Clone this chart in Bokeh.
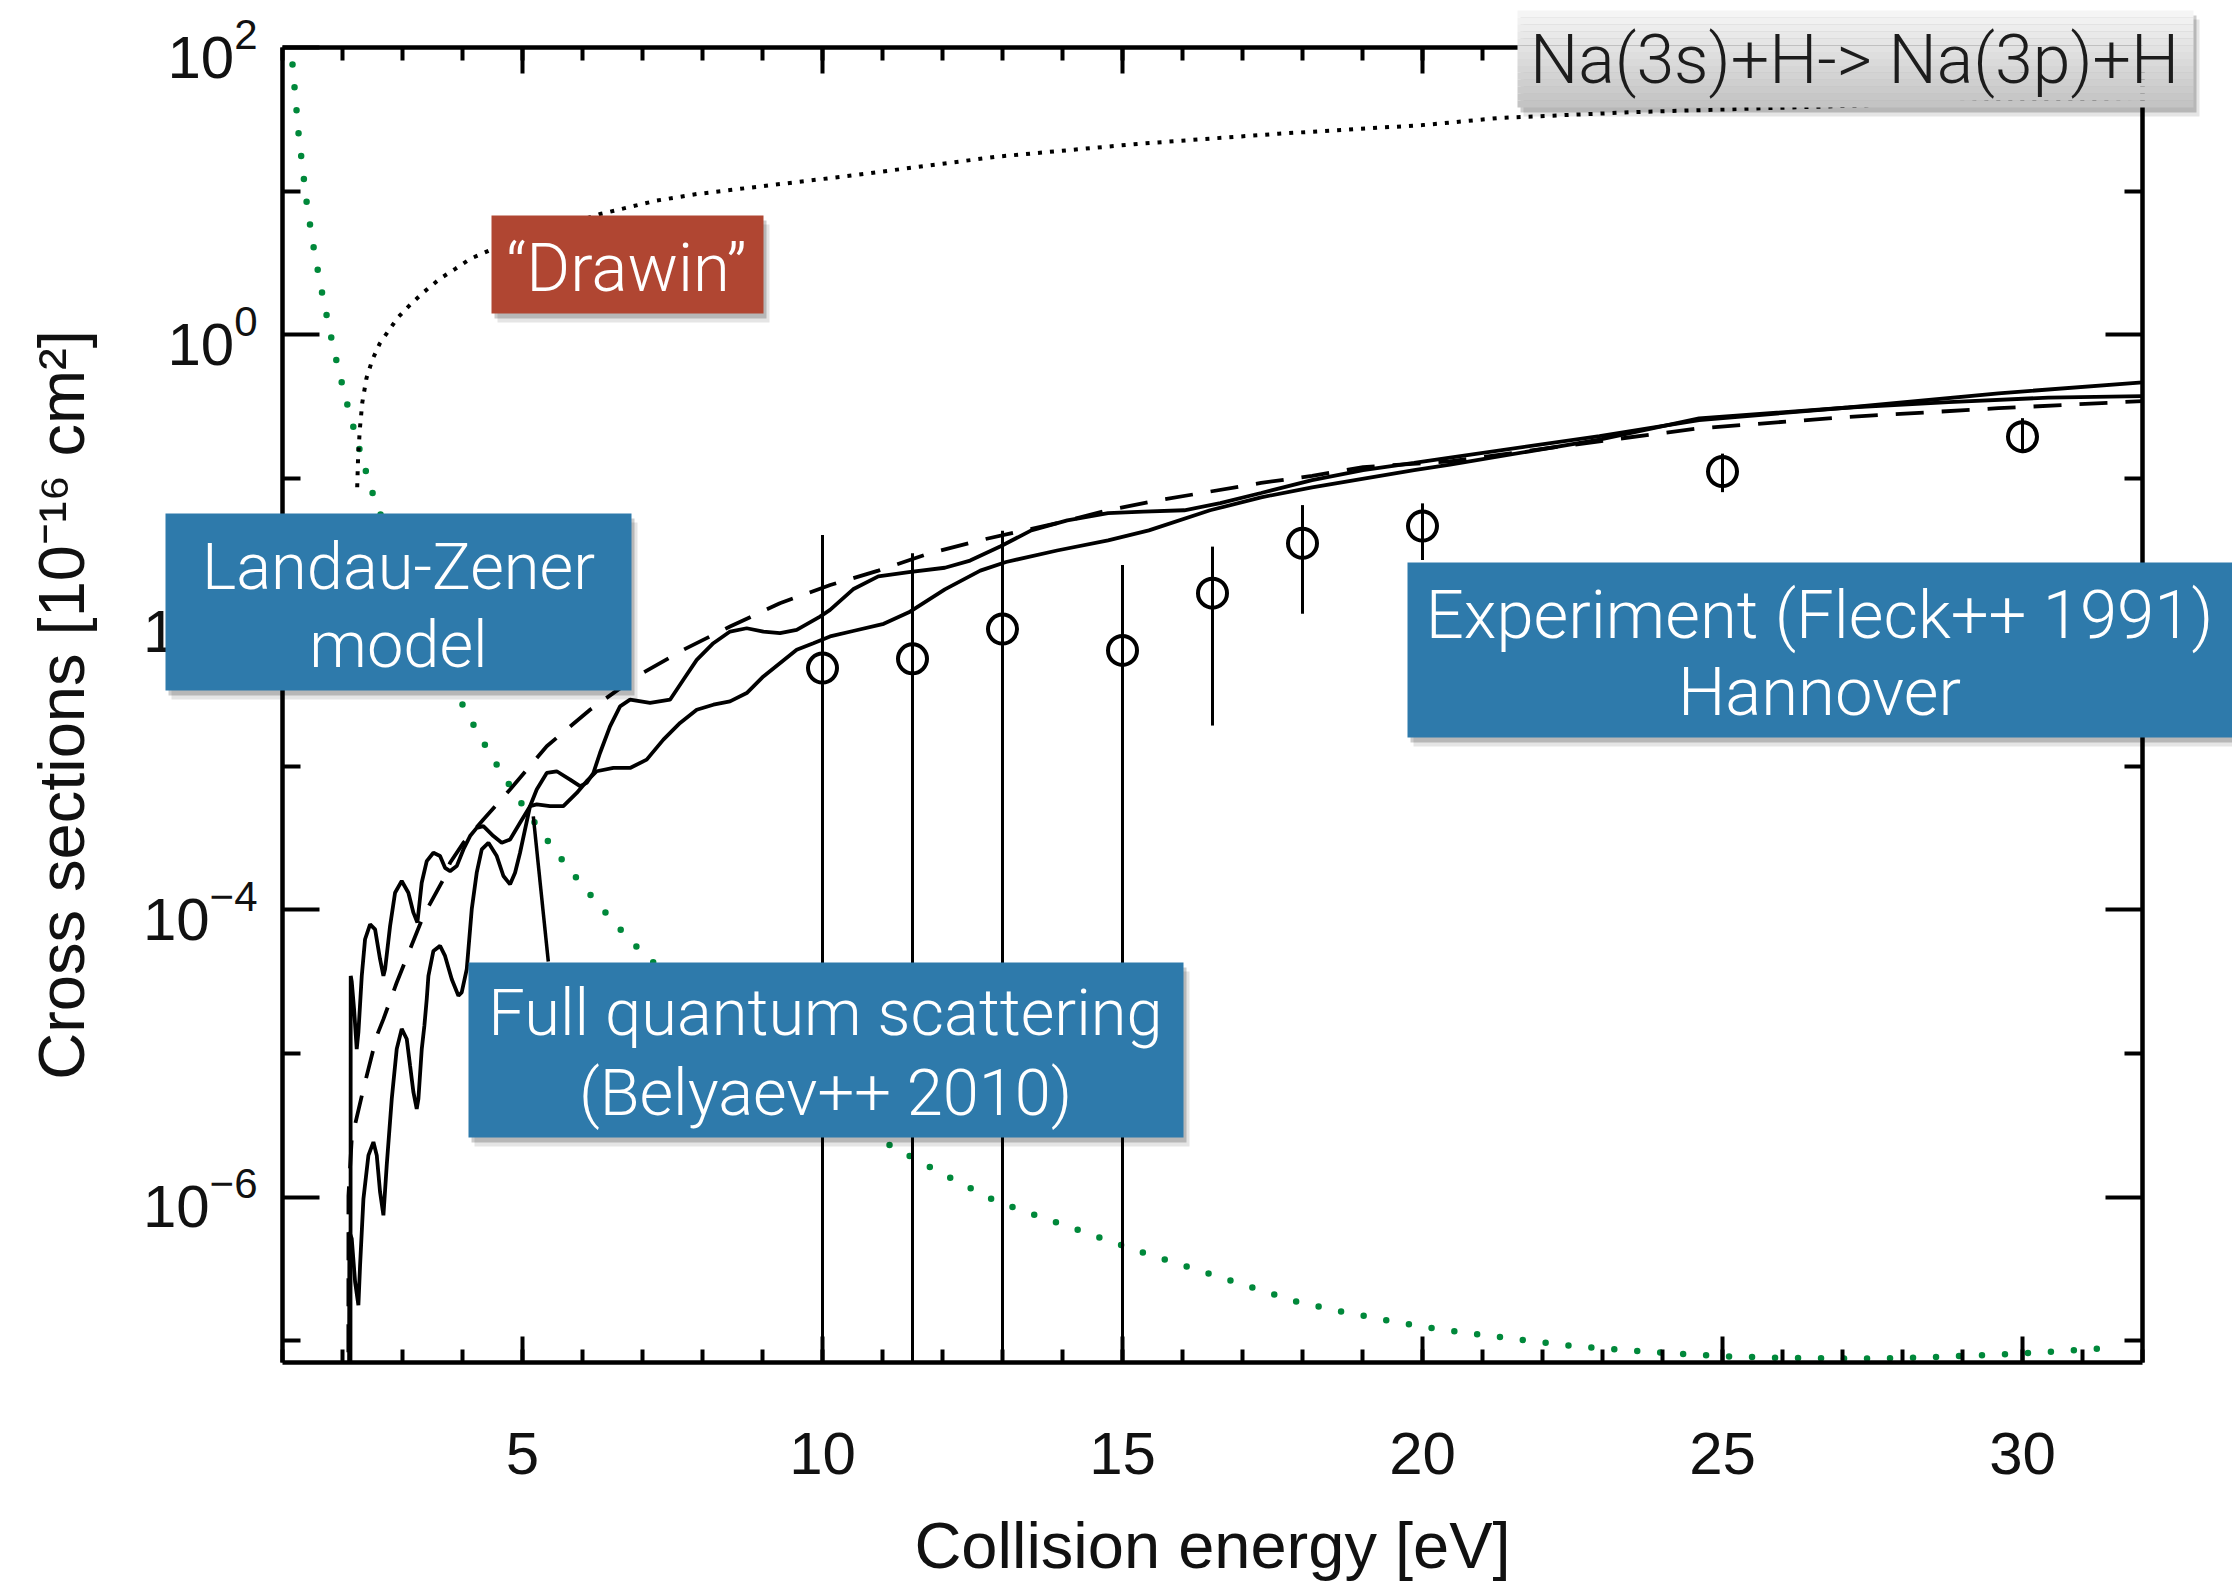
import numpy as np
from bokeh.plotting import figure
from bokeh.models import (Range1d, FixedTicker, LinearAxis, LogAxis, LogTickFormatter,
                          CustomJSTickFormatter, Label)
from bokeh.embed import file_html
from bokeh.resources import INLINE

# ------------------------------------------------------------------
# DATA  (x: collision energy [eV];  *_logy: log10 of cross section in 1e-16 cm^2)
# ------------------------------------------------------------------
x_major_ticks = [5, 10, 15, 20, 25, 30]
x_minor_ticks = list(range(1, 33))
y_major_ticks = [1e-6, 1e-4, 1e-2, 1e0, 1e2]
y_minor_ticks = [1e-7, 1e-5, 1e-3, 1e-1, 1e1]

# Landau-Zener model (green dotted)
lz_x = [1.167, 1.271, 1.412, 1.539, 1.688, 1.851, 2.037, 2.245, 2.469, 2.602,
        3.848, 4.026, 4.221, 4.421, 4.626, 4.837, 5.059, 5.293, 5.526, 5.770,
        6.026, 6.281, 6.543, 6.809, 7.087, 10.84, 11.20, 11.55, 11.90, 12.90,
        15.27, 17.90, 18.66, 19.44, 20.24, 21.01, 21.81, 22.61, 23.43, 24.23,
        25.03, 25.83, 26.60, 27.42, 28.22, 29.02, 29.80, 30.62, 31.42]
lz_logy = [1.882, 1.386, 0.890, 0.557, 0.232, -0.095, -0.417, -0.740, -1.062, -1.218,
           -2.457, -2.592, -2.742, -2.886, -3.029, -3.168, -3.307, -3.446, -3.580, -3.712,
           -3.844, -3.971, -4.096, -4.219, -4.335, -5.576, -5.654, -5.737, -5.815, -6.030,
           -6.375, -6.727, -6.797, -6.859, -6.917, -6.959, -7.000, -7.040, -7.065, -7.088,
           -7.107, -7.116, -7.121, -7.123, -7.116, -7.104, -7.091, -7.072, -7.049]

# "Drawin" formula (black dotted)
drawin_x = [2.245, 2.26, 2.29, 2.33, 2.40, 2.50, 2.62, 2.77, 2.92, 3.15, 3.36, 3.62,
            3.88, 4.13, 4.46, 6.29, 7.24, 7.90, 10.5, 12.9, 15.27, 17.6, 20.0, 21.29,
            23.5, 25.9, 32.0]
drawin_logy = [-1.06, -0.85, -0.65, -0.47, -0.30, -0.17, -0.06, 0.03, 0.12, 0.22, 0.30,
               0.39, 0.46, 0.53, 0.59, 0.841, 0.935, 0.98, 1.11, 1.24, 1.33, 1.40, 1.46,
               1.51, 1.55, 1.58, 1.65]

# dashed model curve
dash_x = [2.095, 2.099, 2.154, 2.349, 2.571, 2.682, 2.904, 3.126, 3.348, 3.682, 3.793,
          4.015, 4.348, 4.793, 5.404, 6.126, 6.904, 7.681, 8.459, 9.290, 10.13, 10.93,
          11.78, 12.72, 13.91, 14.76, 15.61, 16.46, 17.31, 18.16, 19.01, 20.46, 22.95,
          24.61, 27.10, 29.60, 32.0]
dash_logy = [-9.0, -5.99, -5.593, -5.246, -4.877, -4.761, -4.506, -4.274, -4.043, -3.788,
             -3.673, -3.534, -3.372, -3.163, -2.862, -2.608, -2.376, -2.191, -2.029, -1.867,
             -1.740, -1.640, -1.520, -1.420, -1.310, -1.220, -1.150, -1.090, -1.030, -0.980,
             -0.920, -0.880, -0.740, -0.650, -0.570, -0.510, -0.460]

# full quantum scattering, curve 1 (solid)
fq1_x = [2.100, 2.115, 2.154, 2.210, 2.265, 2.293, 2.349, 2.432, 2.515, 2.571, 2.626,
         2.682, 2.737, 2.821, 2.904, 2.987, 3.071, 3.126, 3.182, 3.237, 3.265, 3.321,
         3.365, 3.404, 3.432, 3.515, 3.626, 3.709, 3.821, 3.932, 3.987, 4.071, 4.154,
         4.237, 4.321, 4.432, 4.571, 4.682, 4.793, 4.876, 4.959, 5.126, 5.237, 5.404,
         5.570, 5.793, 5.959, 6.070, 6.181, 6.292, 6.459, 6.626, 6.793, 7.126, 7.459,
         7.681, 7.904, 8.181, 8.459, 8.737, 9.015, 9.292, 9.570, 9.959, 10.126, 10.51,
         10.93, 11.44, 12.04, 12.46, 12.97, 13.48, 14.08, 14.76, 15.35, 16.03, 16.63,
         17.31, 18.16, 19.01, 19.86, 20.46, 22.95, 24.61, 27.10, 29.60, 32.0]
fq1_logy = [-9.0, -6.242, -6.288, -6.589, -6.751, -6.473, -6.010, -5.709, -5.616, -5.709,
            -5.964, -6.126, -5.779, -5.316, -4.968, -4.829, -4.899, -5.084, -5.269, -5.385,
            -5.316, -4.968, -4.806, -4.621, -4.460, -4.286, -4.251, -4.321, -4.483, -4.598,
            -4.575, -4.413, -3.997, -3.742, -3.580, -3.534, -3.626, -3.765, -3.823, -3.742,
            -3.603, -3.279, -3.163, -3.048, -3.036, -3.094, -3.140, -3.117, -3.048, -2.909,
            -2.724, -2.585, -2.538, -2.561, -2.538, -2.399, -2.261, -2.145, -2.064, -2.041,
            -2.064, -2.075, -2.052, -1.960, -1.913, -1.770, -1.680, -1.650, -1.620, -1.570,
            -1.470, -1.360, -1.290, -1.240, -1.230, -1.220, -1.170, -1.100, -1.010, -0.940,
            -0.890, -0.853, -0.704, -0.592, -0.505, -0.406, -0.330]

# full quantum scattering, curve 2 (solid)
fq2_x = [2.130, 2.137, 2.154, 2.193, 2.237, 2.265, 2.321, 2.376, 2.460, 2.543, 2.626,
         2.682, 2.710, 2.793, 2.876, 2.987, 3.098, 3.182, 3.248, 3.320, 3.404, 3.515,
         3.626, 3.709, 3.793, 3.904, 4.015, 4.126, 4.237, 4.348, 4.515, 4.654, 4.793,
         4.959, 5.126, 5.237, 5.459, 5.681, 5.904, 6.070, 6.237, 6.515, 6.793, 7.070,
         7.348, 7.626, 7.904, 8.181, 8.459, 8.737, 9.015, 9.570, 9.848, 10.126, 10.51,
         11.02, 11.44, 12.04, 12.63, 13.06, 13.91, 14.76, 15.44, 16.46, 17.31, 18.16,
         19.86, 20.46, 22.95, 24.61, 27.10, 28.77, 30.43, 32.0]
fq2_logy = [-9.0, -4.460, -4.500, -4.691, -4.969, -4.853, -4.460, -4.205, -4.101, -4.136,
            -4.344, -4.460, -4.413, -4.113, -3.881, -3.800, -3.881, -4.020, -4.089, -3.812,
            -3.661, -3.603, -3.626, -3.708, -3.731, -3.696, -3.580, -3.487, -3.430, -3.418,
            -3.487, -3.534, -3.511, -3.395, -3.279, -3.267, -3.279, -3.279, -3.187, -3.105,
            -3.036, -3.013, -3.013, -2.955, -2.816, -2.700, -2.608, -2.573, -2.550, -2.492,
            -2.376, -2.191, -2.145, -2.098, -2.060, -2.010, -1.930, -1.770, -1.640, -1.580,
            -1.500, -1.430, -1.360, -1.220, -1.130, -1.060, -0.940, -0.902, -0.729, -0.580,
            -0.505, -0.468, -0.436, -0.426]

# experiment (Fleck et al. 1991): value and error-bar ends (-9 = below the plot)
exp_x = [10, 11.5, 13, 15, 16.5, 18, 20, 25, 30]
exp_logy = [-2.318, -2.254, -2.047, -2.195, -1.797, -1.450, -1.330, -0.951, -0.708]
exp_logy_hi = [-1.392, -1.519, -1.362, -1.600, -1.473, -1.184, -1.172, -0.826, -0.579]
exp_logy_lo = [-9.0, -9.0, -9.0, -9.0, -2.718, -1.940, -1.566, -1.094, -0.822]

# pointer line from the "Full quantum scattering" label to the curve
pointer_x = [5.18, 5.43]
pointer_logy = [-3.35, -4.36]

# annotation texts
title_text = "Na(3s)+H-> Na(3p)+H"
drawin_text = "\u201cDrawin\u201d"
lz_lines = ["Landau-Zener", "model"]
fq_lines = ["Full quantum scattering", "(Belyaev++ 2010)"]
exp_lines = ["Experiment (Fleck++ 1991)", "Hannover"]

# ------------------------------------------------------------------
# LAYOUT / STYLE
# ------------------------------------------------------------------
W, H = 2232, 1584
FL, FR, FT, FB = 282, 2142, 47, 1364
X0, X1 = 1.0, 32.0
LY0, LY1 = -7.15, 2.0

GREEN = "#00883a"
BLUE = "#2e7aab"
RED = "#b04632"
LIGHT = "Roboto Light"
HELV = "Liberation Sans"
TXT_SHIFT = 21  # label baseline correction (px)


def sig(v):
    return np.power(10.0, np.asarray(v, dtype=float))


p = figure(width=W, height=H, x_range=Range1d(X0, X1),
           y_range=Range1d(10 ** LY0, 10 ** LY1), y_axis_type="log",
           output_backend="svg", toolbar_location=None,
           min_border_left=FL, min_border_right=W - FR,
           min_border_top=FT, min_border_bottom=H - FB)
p.outline_line_color = None
p.grid.visible = False
p.background_fill_color = "white"
p.border_fill_color = "white"


def style_axis(ax, major_len, minor_len):
    ax.axis_line_width = 4.5
    ax.axis_line_color = "black"
    ax.major_tick_in = major_len
    ax.major_tick_out = 0
    ax.minor_tick_in = minor_len
    ax.minor_tick_out = 0
    ax.major_tick_line_width = 4
    ax.minor_tick_line_width = 4
    ax.major_tick_line_color = "black"
    ax.minor_tick_line_color = "black"


xt = FixedTicker(ticks=x_major_ticks, minor_ticks=x_minor_ticks)
yt = FixedTicker(ticks=y_major_ticks, minor_ticks=y_minor_ticks)
blank = CustomJSTickFormatter(code="return ''")

xb = p.xaxis[0]
xb.ticker = xt
style_axis(xb, 26, 13)
xb.major_label_text_font = HELV
xb.major_label_text_font_size = "60px"
xb.major_label_text_color = "#111111"
xb.major_label_standoff = 70
xb.axis_label = "Collision energy [eV]"
xb.axis_label_text_font = HELV
xb.axis_label_text_font_size = "65px"
xb.axis_label_text_font_style = "normal"
xb.axis_label_text_color = "#111111"
xb.axis_label_standoff = 32

yl = p.yaxis[0]
yl.ticker = yt
yl.formatter = LogTickFormatter()
style_axis(yl, 37, 18)
yl.major_label_text_font = HELV
yl.major_label_text_font_size = "60px"
yl.major_label_text_color = "#111111"
yl.major_label_standoff = 25
yl.axis_label = "Cross sections [10\u207b\u00b9\u2076 cm\u00b2]"
yl.axis_label_text_font = HELV
yl.axis_label_text_font_size = "65px"
yl.axis_label_text_font_style = "normal"
yl.axis_label_text_color = "#111111"
yl.axis_label_standoff = 42

xa = LinearAxis(ticker=xt, formatter=blank, major_label_text_font_size="1px",
                major_label_standoff=0)
style_axis(xa, 26, 13)
p.add_layout(xa, "above")

yr = LogAxis(ticker=yt, formatter=blank, major_label_text_font_size="1px",
             major_label_standoff=0)
style_axis(yr, 37, 18)
p.add_layout(yr, "right")

# ---- curves ----
p.line(lz_x, sig(lz_logy), line_color=GREEN, line_width=6.5, line_dash="0 23",
       line_cap="round")
p.line(drawin_x, sig(drawin_logy), line_color="black", line_width=4, line_dash="4 8")
p.line(dash_x, sig(dash_logy), line_color="black", line_width=3.8, line_dash="28 18")
p.line(fq1_x, sig(fq1_logy), line_color="black", line_width=3.8)
p.line(fq2_x, sig(fq2_logy), line_color="black", line_width=3.8)
p.segment(x0=exp_x, y0=sig(exp_logy_lo), x1=exp_x, y1=sig(exp_logy_hi),
          line_color="black", line_width=3)
p.scatter(exp_x, sig(exp_logy), marker="circle", size=29, fill_color=None,
          line_color="black", line_width=4)
p.segment(x0=[pointer_x[0]], y0=sig([pointer_logy[0]]), x1=[pointer_x[1]],
          y1=sig([pointer_logy[1]]), line_color="black", line_width=3.5)

# ------------------------------------------------------------------
# transparent overlay (same canvas size, pixel coordinates, y downwards)
# for the callout boxes, which overflow the plot frame
# ------------------------------------------------------------------
ov = figure(width=W, height=H, x_range=Range1d(0, W), y_range=Range1d(H, 0),
            output_backend="svg", toolbar_location=None,
            min_border_left=0, min_border_right=0, min_border_top=0,
            min_border_bottom=0, x_axis_type=None, y_axis_type=None)
ov.outline_line_color = None
ov.background_fill_color = None
ov.border_fill_color = None
ov.title.visible = False
ov.styles = {"position": "absolute", "left": "0px", "top": "0px"}


def add_box(l, t, r, b, color):
    for dx, dy, a in [(6, 9, 0.10), (3, 5, 0.20)]:
        ov.quad(left=[l + dx], right=[r + dx], top=[t + dy], bottom=[b + dy],
                fill_color="black", fill_alpha=a, line_alpha=0)
    if color is not None:
        ov.quad(left=[l], right=[r], top=[t], bottom=[b], fill_color=color,
                fill_alpha=1.0, line_alpha=0)


def add_text(cx, base, text, size, color="white", font=LIGHT):
    ov.add_layout(Label(x=cx, y=base - TXT_SHIFT, text=text, text_align="center",
                        text_baseline="alphabetic", text_color=color, text_font=font,
                        text_font_size=f"{size}px"))


# title box with grey gradient
add_box(1517, 10, 2193, 107, None)
n = 14
for i in range(n):
    c = int(245 - (245 - 196) * i / (n - 1))
    t = 10 + (107 - 10) * i / n
    b = 10 + (107 - 10) * (i + 1) / n
    ov.quad(left=[1517], right=[2193], top=[t], bottom=[b],
            fill_color=f"#{c:02x}{c:02x}{c:02x}", fill_alpha=1.0, line_alpha=0)
add_text(1854, 80, title_text, 68, color="#1c1c1c")

add_box(491, 215, 763, 313, RED)
add_text(626, 288, drawin_text, 67)

add_box(165, 513, 631, 690, BLUE)
add_text(398, 587, lz_lines[0], 65)
add_text(398, 665, lz_lines[1], 65)

add_box(468, 962, 1183, 1137, BLUE)
add_text(825, 1033, fq_lines[0], 65)
add_text(825, 1113, fq_lines[1], 65)

add_box(1407, 562, 2232, 737, BLUE)
add_text(1819, 635, exp_lines[0], 67)
add_text(1819, 712, exp_lines[1], 67)

open("out.html", "w").write(file_html([p, ov], INLINE))
